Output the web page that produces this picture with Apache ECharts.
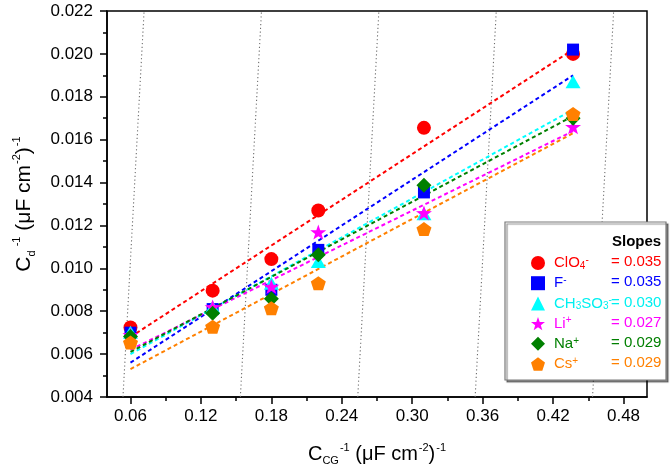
<!DOCTYPE html>
<html>
<head>
<meta charset="utf-8">
<script src="https://cdn.jsdelivr.net/npm/echarts@6/dist/echarts.min.js"></script>
<style>html,body{margin:0;padding:0;background:#fff}#c{width:670px;height:475px}</style>
</head>
<body>
<div id="c"></div>
<script>
// ---- data ----
const xValues = [0.06, 0.13, 0.18, 0.22, 0.31, 0.437];
const clo4 = [0.00724, 0.00896, 0.01043, 0.0127, 0.01655, 0.0200];
const fIon = [0.0070, 0.0081, 0.0090, 0.01086, 0.01354, 0.0202];
const ch3so3 = [0.00702, 0.0082, 0.00931, 0.01032, 0.01255, 0.0187];
const liIon = [0.0069, 0.0082, 0.00915, 0.01169, 0.01258, 0.0166];
const naIon = [0.00682, 0.00791, 0.00858, 0.01063, 0.01387, 0.0170];
const csIon = [0.00654, 0.00728, 0.00814, 0.00931, 0.01183, 0.0172];

const fitX = [0.06, 0.437];
const clo4Fit = [0.0068, 0.0202];
const fFit = [0.0056, 0.0190];
const ch3so3Fit = [0.0060, 0.0174];
const liFit = [0.0062, 0.0164];
const naFit = [0.0061, 0.0171];
const csFit = [0.0053, 0.0163];

const slopes = ['= 0.035', '= 0.035', '= 0.030', '= 0.027', '= 0.029', '= 0.029'];
const seriesNames = ['ClO4-', 'F-', 'CH3SO3-', 'Li+', 'Na+', 'Cs+'];
const legendLabels = ['ClO{sub|4}{sup|-}', 'F{sup|-}', 'CH{sub|3}SO{sub|3}{sup|-}', 'Li{sup|+}', 'Na{sup|+}', 'Cs{sup|+}'];

const guideBottomX = [0.0536, 0.1536, 0.2536, 0.3536, 0.4536];
const guideTopX = [0.0716, 0.1716, 0.2716, 0.3716, 0.4716];
const guideY = [0.004, 0.022];

const xMajorTicks = [0.06, 0.12, 0.18, 0.24, 0.30, 0.36, 0.42, 0.48];
const xMinorTicks = [0.09, 0.15, 0.21, 0.27, 0.33, 0.39, 0.45];

// ---- styles ----
const colors = ['#ff0000', '#0000ff', '#00ffff', '#ff00ff', '#008000', '#ff8000'];
const textColors = ['#ff0000', '#0000ff', '#00f0f0', '#ff00ff', '#008000', '#ff8000'];
const STAR = 'path://M0,-10 L2.35,-3.24 L9.51,-3.09 L3.8,1.24 L5.88,8.09 L0,4 L-5.88,8.09 L-3.8,1.24 L-9.51,-3.09 L-2.35,-3.24 Z';
const PENT = 'path://M0,-10 L9.51,-3.09 L5.88,8.09 L-5.88,8.09 L-9.51,-3.09 Z';
const symbols = ['circle', 'rect', 'triangle', STAR, 'diamond', PENT];
const symSizes = [14, 12, [15, 13], [16, 15], [15, 15], [15, 14]];
const FONT = 'Arial, "Liberation Sans", sans-serif';

const pointSets = [clo4, fIon, ch3so3, liIon, naIon, csIon];
const fitSets = [clo4Fit, fFit, ch3so3Fit, liFit, naFit, csFit];

const series = [];
guideBottomX.forEach((bx, i) => {
  series.push({
    type: 'line', silent: true, symbol: 'none', z: 1,
    data: [[bx, guideY[0]], [guideTopX[i], guideY[1]]],
    lineStyle: { color: '#6e6e6e', width: 1.1, type: [1.2, 2.6] }
  });
});
fitSets.forEach((f, i) => {
  series.push({
    type: 'line', silent: true, symbol: 'none', z: 2,
    name: seriesNames[i] + ' fit',
    data: [[fitX[0], f[0]], [fitX[1], f[1]]],
    lineStyle: { color: colors[i], width: 2, type: [4, 3] }
  });
});
pointSets.forEach((p, i) => {
  series.push({
    type: 'scatter', name: seriesNames[i], z: 3,
    symbol: symbols[i], symbolSize: symSizes[i],
    itemStyle: { color: colors[i], opacity: 1 },
    data: xValues.map((x, j) => [x, p[j]])
  });
});

const legendTop = 262, rowH = 20.2;
const graphic = [
  { type: 'rect', z: 3, shape: { x: 505, y: 222, width: 161, height: 158 },
    style: { fill: '#fff', stroke: '#7a7a7a', lineWidth: 1.2, shadowColor: 'rgba(0,0,0,0.45)', shadowOffsetX: 2, shadowOffsetY: 2, shadowBlur: 1 } },
  { type: 'text', z: 10, style: { text: 'Slopes', x: 612, y: 242, fill: '#000', font: 'bold 15px ' + FONT, verticalAlign: 'middle' } }
];
slopes.forEach((s, i) => {
  graphic.push({ type: 'text', z: 10, style: { text: s, x: 611, y: legendTop + i * rowH, fill: textColors[i], font: '15px ' + FONT, verticalAlign: 'middle' } });
});

const option = {
  animation: false,
  backgroundColor: '#fff',
  grid: { left: 107, right: 23, top: 11, bottom: 78, containLabel: false, outerBoundsMode: 'none',
          show: true, borderColor: '#000', borderWidth: 1.5, backgroundColor: 'transparent' },
  xAxis: [{
    type: 'value', min: 0.04, max: 0.50,
    axisLine: { show: true, lineStyle: { color: '#000', width: 1.5 } },
    axisTick: { show: true, inside: false, length: 7, customValues: xMajorTicks, lineStyle: { color: '#000', width: 1.5 } },
    axisLabel: { customValues: xMajorTicks, margin: 11, color: '#000', fontSize: 17, fontFamily: FONT, formatter: v => v.toFixed(2) },
    splitLine: { show: false },
    name: '{m|C}{sub|CG}{sup|-1}{m| (μF cm}{sup|-2}{m|)}{sup|-1}',
    nameLocation: 'middle', nameGap: 45,
    nameTextStyle: { color: '#000', fontFamily: FONT, rich: { m: { fontSize: 20, lineHeight: 24 },
      sub: { fontSize: 11, verticalAlign: 'bottom', lineHeight: 24, padding: [9, 0, 0, 0] },
      sup: { fontSize: 11, verticalAlign: 'top', lineHeight: 24, padding: [0, 0, 9, 1] } } }
  }, {
    type: 'value', min: 0.04, max: 0.50, position: 'bottom',
    axisLine: { show: false },
    axisTick: { show: true, inside: false, length: 4, customValues: xMinorTicks, lineStyle: { color: '#000', width: 1.5 } },
    axisLabel: { show: false },
    splitLine: { show: false }
  }],
  yAxis: {
    type: 'value', min: 0.004, max: 0.022, interval: 0.002,
    axisLine: { show: true, lineStyle: { color: '#000', width: 1.5 } },
    axisTick: { show: true, inside: false, length: 7, lineStyle: { color: '#000', width: 1.5 } },
    minorTick: { show: true, splitNumber: 2, length: 4, lineStyle: { color: '#000', width: 1.5 } },
    axisLabel: { margin: 14, color: '#000', fontSize: 17, fontFamily: FONT, formatter: v => v.toFixed(3) },
    splitLine: { show: false },
    name: '{m|C}{sub|d}{sup| -1}{m| (μF cm}{sup|-2}{m|)}{sup|-1}',
    nameLocation: 'middle', nameGap: 70,
    nameTextStyle: { color: '#000', fontFamily: FONT, rich: { m: { fontSize: 21, lineHeight: 26 },
      sub: { fontSize: 11, verticalAlign: 'bottom', lineHeight: 26, padding: [10, 0, 0, 0] },
      sup: { fontSize: 11, verticalAlign: 'top', lineHeight: 26, padding: [0, 0, 10, 1] } } }
  },
  legend: {
    show: true, orient: 'vertical', left: 526, top: legendTop - 12, z: 6,
    itemWidth: 14, itemHeight: 14, itemGap: rowH - 16,
    selectedMode: false,
    data: seriesNames.map((n, i) => ({ name: n, icon: symbols[i], textStyle: { color: textColors[i] } })),
    formatter: name => legendLabels[seriesNames.indexOf(name)],
    textStyle: { fontSize: 15, fontFamily: FONT, lineHeight: 16, padding: [0, 0, 0, 4],
      rich: { sub: { fontSize: 10, lineHeight: 6, verticalAlign: 'bottom' },
              sup: { fontSize: 10, lineHeight: 6, verticalAlign: 'top' } } }
  },
  graphic: graphic,
  series: series
};

const chart = echarts.init(document.getElementById('c'), null, { renderer: 'canvas' });
chart.setOption(option);
</script>
</body>
</html>
